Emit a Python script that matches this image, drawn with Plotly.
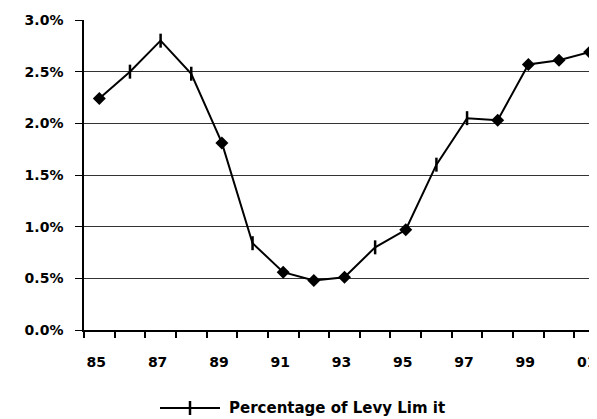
import plotly.graph_objects as go

years = ["85", "86", "87", "88", "89", "90", "91", "92", "93", "94", "95", "96", "97", "98", "99", "00", "01"]
levy_pct = [0.0224, 0.0250, 0.0280, 0.0248, 0.0181, 0.0084, 0.0056, 0.0048, 0.0051, 0.0080, 0.0097,
            0.0160, 0.0205, 0.0203, 0.0257, 0.0261, 0.0269]
marker_kind = ["d", "t", "t", "t", "d", "t", "d", "d", "d", "t", "d", "t", "t", "d", "d", "d", "d"]
tick_labels = ["85", "87", "89", "91", "93", "95", "97", "99", "01"]
y_ticks = [0.0, 0.005, 0.010, 0.015, 0.020, 0.025, 0.030]
legend_label = "Percentage of Levy Lim it"

idx = list(range(len(years)))
symbols = ["diamond" if k == "d" else "line-ns" for k in marker_kind]
lw = [0 if k == "d" else 2.5 for k in marker_kind]

FONT = "DejaVu Sans"

# page body has an 8px margin; figure is 589x411 placed at (8, 8)
OFF = 8
W, H = 597 - OFF, 419 - OFF
L, T = 84 - OFF, 20 - OFF
PB = 330 - OFF  # plot bottom in figure px
fig = go.Figure()
fig.add_trace(go.Scatter(
    x=idx, y=levy_pct, mode="lines+markers", name=legend_label, showlegend=False,
    line=dict(color="black", width=2),
    marker=dict(symbol=symbols, size=10, color="black", line=dict(color="black", width=lw)),
    cliponaxis=False,
))

PW = W - L
PH = PB - T
def px(x):
    return (x - OFF - L) / PW
def py(y):
    return (PB - (y - OFF)) / PH

shapes = [
    dict(type="line", xref="paper", yref="paper", x0=px(160), x1=px(220), y0=py(408), y1=py(408),
         line=dict(color="black", width=2)),
    dict(type="line", xref="paper", yref="paper", x0=px(190), x1=px(190), y0=py(401), y1=py(415),
         line=dict(color="black", width=2.5)),
]

fig.update_layout(
    width=W, height=H,
    margin=dict(l=L, r=0, t=T, b=H - PB, autoexpand=False),
    paper_bgcolor="white", plot_bgcolor="white",
    showlegend=False,
    shapes=shapes,
    annotations=[dict(text=legend_label, xref="paper", yref="paper", x=px(227), y=py(408),
                      xanchor="left", yanchor="middle", showarrow=False,
                      font=dict(family=FONT, size=15, color="black", weight="bold"))],
    xaxis=dict(
        range=[-0.5, 16.24], tickvals=idx[::2], ticktext=tick_labels,
        ticks="", showgrid=False, zeroline=False,
        showline=True, linecolor="black", linewidth=1.5,
        minor=dict(tick0=-0.5, dtick=1, ticks="outside", ticklen=6, tickcolor="black", tickwidth=1.5),
        ticklabelstandoff=18, ticklabeloverflow="allow", ticklabelshift=-3,
        tickfont=dict(family=FONT, size=14, color="black", weight="bold"),
    ),
    yaxis=dict(
        range=[0, 0.030], tickvals=y_ticks, tickformat=".1%",
        ticks="outside", ticklen=7, tickcolor="black", tickwidth=1,
        showgrid=True, gridcolor="#333333", gridwidth=1, zeroline=False,
        showline=True, linecolor="black", linewidth=1.5,
        ticklabelstandoff=9,
        tickfont=dict(family=FONT, size=14, color="black", weight="bold"),
    ),
)

fig.write_html("out.html")
